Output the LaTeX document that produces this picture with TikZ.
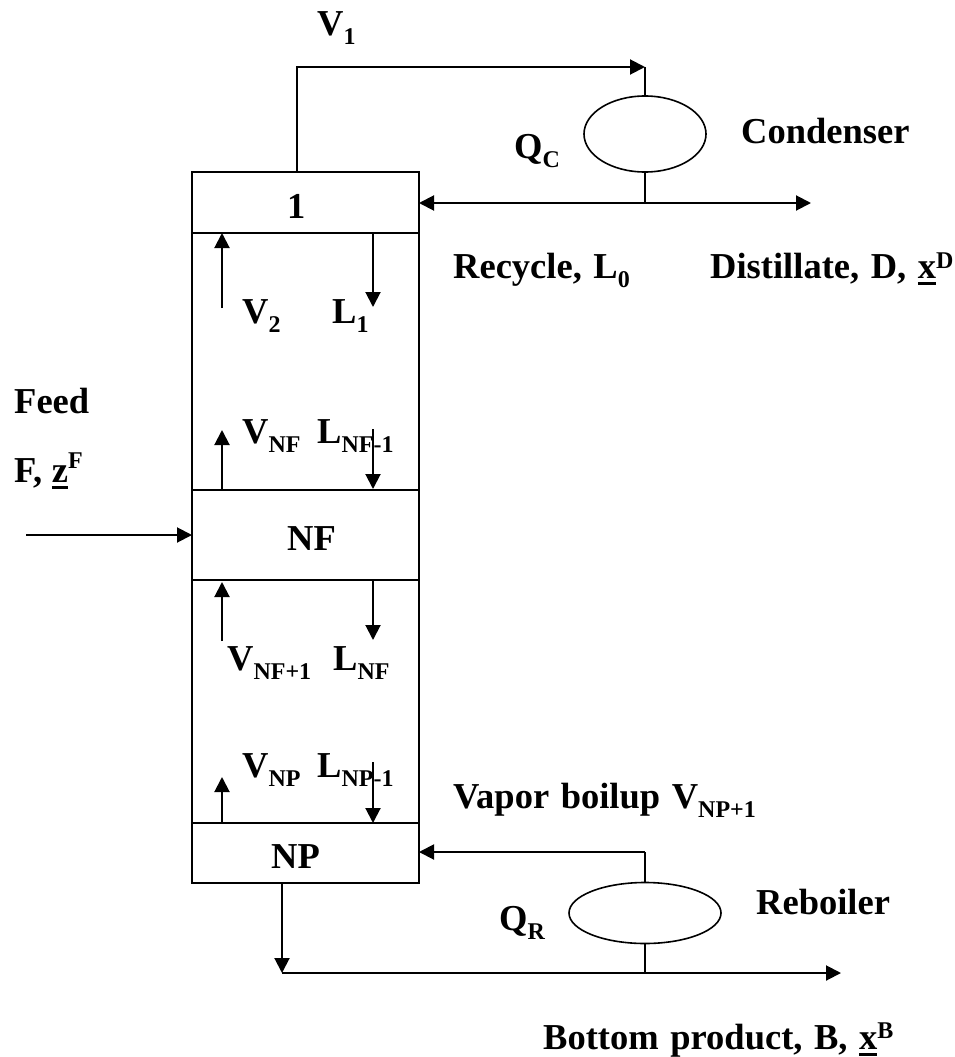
\documentclass[tikz,border=0pt]{standalone}
\usepackage{fontspec}
\setmainfont[WordSpace=1.27]{Liberation Serif}
\usetikzlibrary{arrows.meta,shapes.geometric}
\newcommand{\sbs}[1]{\raisebox{-9pt}{\fontsize{24}{24}\selectfont\textbf{#1}}}
\newcommand{\sps}[2][11pt]{\raisebox{#1}{\fontsize{24}{24}\selectfont\textbf{#2}}}
\newcommand{\ulin}[1]{\sbox0{#1}\rlap{\rule[-7pt]{\wd0}{3.5pt}}\usebox0}
\tikzset{
  x=1pt,y=-1pt,
  flow/.style={draw=black,line width=2pt,-{Triangle[length=15pt,width=15pt]}},
  pipe/.style={draw=black,line width=2pt},
  stage/.style={draw=black,line width=2pt,minimum width=227pt,inner sep=0pt,outer sep=0pt,anchor=north west},
  unit/.style={draw=black,line width=1.6pt,ellipse,inner sep=0pt,outer sep=0pt},
  txt/.style={font=\fontsize{36.5}{36.5}\selectfont\bfseries,inner sep=0pt,anchor=base west,text=black},
}
\begin{document}
\begin{tikzpicture}
\useasboundingbox (0,0) rectangle (954,1057);
% column
\node[stage,minimum height=61pt] (s1) at (192,172) {};
\node[stage,minimum height=257pt] (sa) at (192,233) {};
\node[stage,minimum height=90pt] (sf) at (192,490) {};
\node[stage,minimum height=243pt] (sb) at (192,580) {};
\node[stage,minimum height=60pt] (sn) at (192,823) {};
% stage texts
\node[txt] at (287,218) {1};
\node[txt] at (287,550) {NF};
\node[txt] at (271,868) {NP};
% units
\node[unit,minimum width=122pt,minimum height=76pt] (cond) at (645,134) {};
\node[unit,minimum width=152pt,minimum height=61pt] (reb) at (645,913) {};
% coordinates
\coordinate (v1a) at (297,172);
\coordinate (v1b) at (297,67);
\coordinate (v1c) at (645,67);
\coordinate (cb) at (645,203);
\coordinate (rc) at (419,203);
\coordinate (de) at (811,203);
\coordinate (rt) at (645,852);
\coordinate (rl) at (419,852);
\coordinate (bb) at (645,973);
\coordinate (bs) at (282,973);
\coordinate (bt) at (282,883);
\coordinate (be) at (841,973);
\coordinate (f0) at (26,535);
\coordinate (f1) at (192,535);
% top
\draw[flow] (v1a) -- (v1b) -- (v1c);
\draw[pipe] (v1c) -- (cond.north);
\draw[pipe] (cond.south) -- (cb);
\draw[flow] (cb) -- (rc);
\draw[flow] (cb) -- (de);
% bottom
\draw[pipe] (reb.north) -- (rt);
\draw[flow] (rt) -- (rl);
\draw[pipe] (reb.south) -- (bb);
\draw[flow] (bt) -- (bs);
\draw[flow] (bs) -- (be);
% feed
\draw[flow] (f0) -- (f1);
% internal
\coordinate (a1) at (222,308); \coordinate (a2) at (222,233);
\coordinate (b1) at (373,233); \coordinate (b2) at (373,307);
\draw[flow] (a1) -- (a2);
\draw[flow] (b1) -- (b2);
\coordinate (c1) at (222,490); \coordinate (c2) at (222,430);
\coordinate (d1) at (373,429); \coordinate (d2) at (373,489);
\draw[flow] (c1) -- (c2);
\draw[flow] (d1) -- (d2);
\coordinate (e1) at (222,641); \coordinate (e2) at (222,582);
\coordinate (g1) at (373,581); \coordinate (g2) at (373,640);
\draw[flow] (e1) -- (e2);
\draw[flow] (g1) -- (g2);
\coordinate (h1) at (222,823); \coordinate (h2) at (222,777);
\coordinate (k1) at (373,762); \coordinate (k2) at (373,823);
\draw[flow] (h1) -- (h2);
\draw[flow] (k1) -- (k2);
% labels
\node[txt] at (317,36) {V\sbs{1}};
\node[txt] at (514,158) {Q\sbs{C}};
\node[txt] at (741,143) {Condenser};
\node[txt] at (453,278) {Recycle, L\sbs{0}};
\node[txt] at (710,278) {Distillate, D, \ulin{x}\sps[10pt]{D}};
\node[txt] at (242,323) {V\sbs{2}};
\node[txt] at (332,323) {L\sbs{1}};
\node[txt] at (14,413) {Feed};
\node[txt] at (14,482) {F,\hspace{-2pt} \ulin{z}\sps[14pt]{F}};
\node[txt] at (242,443) {V\sbs{NF}};
\node[txt] at (317,443) {L\sbs{NF-1}};
\node[txt] at (227,670) {V\sbs{NF+1}};
\node[txt] at (333,670) {L\sbs{NF}};
\node[txt] at (242,777) {V\sbs{NP}};
\node[txt] at (317,777) {L\sbs{NP-1}};
\node[txt] at (453,808) {Vapor boilup V\sbs{NP+1}};
\node[txt] at (499,930) {Q\sbs{R}};
\node[txt] at (756,914) {Reboiler};
\node[txt] at (543,1049) {Bottom product, B, \ulin{x}\sps{B}};
\end{tikzpicture}
\end{document}
